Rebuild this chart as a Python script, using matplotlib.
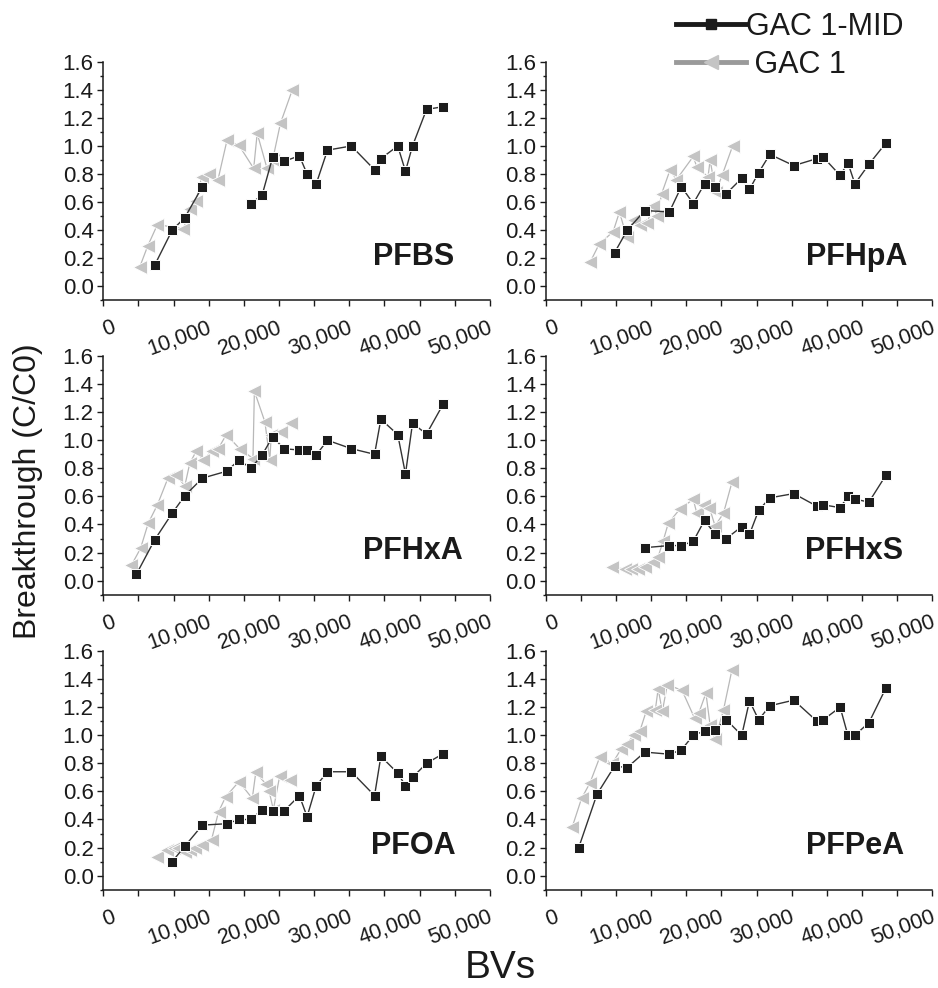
import numpy as np
import matplotlib
matplotlib.use("Agg")
import matplotlib.pyplot as plt
import matplotlib.transforms as mtransforms
from matplotlib.ticker import MultipleLocator, FuncFormatter
from matplotlib.lines import Line2D

plt.rcParams['font.family'] = ['Liberation Sans', 'DejaVu Sans']

nan = np.nan
compounds = ["PFBS", "PFHpA", "PFHxA", "PFHxS", "PFOA", "PFPeA"]

# GAC 1-MID sampling points (bed volumes)
mid_bv = [4700, 7300, 9800, 11600, 14100, 17600, 19300, 21000, 22600, 24100, 25700,
          27900, 29000, 30300, 31900, 35300, 38600, 39500, 41900, 43000, 44000, 46000, 48400]
pfbs_mid = [nan, 0.15, 0.40, 0.49, 0.71, nan, nan, 0.59, 0.65, 0.92, 0.89, 0.93, 0.80, 0.73,
            0.97, 1.00, 0.83, 0.91, 1.00, 0.82, 1.00, 1.26, 1.28]
pfhpa_mid = [nan, nan, 0.24, 0.40, 0.54, 0.53, 0.71, 0.59, 0.73, 0.71, 0.66, 0.77, 0.69, 0.81,
             0.94, 0.86, 0.91, 0.92, 0.79, 0.88, 0.73, 0.87, 1.02]
pfhxa_mid = [0.045, 0.29, 0.48, 0.605, 0.73, 0.78, 0.86, 0.80, 0.895, 1.025, 0.94, 0.93, 0.93,
             0.895, 1.00, 0.94, 0.90, 1.15, 1.04, 0.76, 1.12, 1.045, 1.26]
pfhxs_mid = [nan, nan, nan, nan, 0.235, 0.25, 0.25, 0.28, 0.43, 0.33, 0.30, 0.385, 0.33, 0.50,
             0.59, 0.62, 0.53, 0.54, 0.52, 0.60, 0.58, 0.56, 0.75]
pfoa_mid = [nan, nan, 0.10, 0.21, 0.36, 0.37, 0.40, 0.40, 0.47, 0.46, 0.46, 0.57, 0.42, 0.64,
            0.74, 0.74, 0.57, 0.85, 0.73, 0.64, 0.70, 0.80, 0.87]
pfpea_mid = [0.20, 0.58, 0.78, 0.77, 0.88, 0.865, 0.895, 1.00, 1.03, 1.04, 1.11, 1.00, 1.245,
             1.11, 1.21, 1.25, 1.10, 1.11, 1.20, 1.00, 1.00, 1.09, 1.335]

# GAC 1 series
pfbs_gac1_bv = [5200, 6300, 7700, 11400, 12400, 13200, 14000, 15000, 16300, 17600, 19300,
                21400, 21900, 23300, 24100, 25200, 26900]
pfbs_gac1 = [0.14, 0.285, 0.44, 0.41, 0.55, 0.61, 0.78, 0.80, 0.755, 1.04, 1.005, 0.84, 1.09,
             0.84, 0.90, 1.16, 1.40]
pfhpa_gac1_bv = [6300, 7600, 9600, 10500, 11500, 12500, 13400, 14400, 15300, 15900, 16500,
                 17700, 18600, 21000, 21500, 23100, 23400, 24200, 25100, 26600]
pfhpa_gac1 = [0.17, 0.30, 0.39, 0.53, 0.355, 0.47, 0.44, 0.45, 0.57, 0.50, 0.66, 0.83, 0.76,
              0.925, 0.85, 0.78, 0.90, 0.67, 0.79, 1.00]
pfhxa_gac1_bv = [4000, 5300, 6400, 7700, 9200, 10400, 11600, 12300, 13200, 14200, 15400, 16300,
                 17500, 19400, 21300, 21500, 23000, 23700, 23900, 25300, 26700]
pfhxa_gac1 = [0.11, 0.23, 0.41, 0.54, 0.73, 0.75, 0.675, 0.835, 0.92, 0.86, 0.92, 0.935, 1.04,
              0.94, 0.87, 1.35, 1.13, 0.86, 1.04, 1.06, 1.12]
pfhxs_gac1_bv = [9400, 11300, 12200, 13200, 14100, 15300, 16000, 16700, 17450, 19100, 21000,
                 21500, 22500, 23300, 24100, 25300, 26500]
pfhxs_gac1 = [0.10, 0.08, 0.085, 0.085, 0.10, 0.135, 0.17, 0.28, 0.41, 0.51, 0.58, 0.48, 0.54,
              0.52, 0.39, 0.48, 0.70]
pfoa_gac1_bv = [7600, 9000, 10000, 10700, 11600, 12300, 13000, 14000, 15400, 16400, 17400,
                19300, 21200, 21700, 23100, 23600, 24200, 25100, 26500]
pfoa_gac1 = [0.13, 0.18, 0.20, 0.20, 0.17, 0.185, 0.20, 0.215, 0.255, 0.455, 0.56, 0.67, 0.55,
             0.735, 0.655, 0.60, 0.47, 0.71, 0.68]
pfpea_gac1_bv = [3800, 5100, 6300, 7700, 9500, 10700, 11600, 12500, 13400, 14300, 15600, 16000,
                 16600, 17300, 19400, 21200, 21800, 22800, 23400, 24100, 25300, 26500]
pfpea_gac1 = [0.35, 0.55, 0.66, 0.845, 0.80, 0.90, 0.94, 1.00, 1.03, 1.17, 1.18, 1.33, 1.17,
              1.36, 1.32, 1.12, 1.16, 1.30, 1.07, 0.97, 1.18, 1.465]

mid_series = [pfbs_mid, pfhpa_mid, pfhxa_mid, pfhxs_mid, pfoa_mid, pfpea_mid]
gac1_bvs = [pfbs_gac1_bv, pfhpa_gac1_bv, pfhxa_gac1_bv, pfhxs_gac1_bv, pfoa_gac1_bv, pfpea_gac1_bv]
gac1_series = [pfbs_gac1, pfhpa_gac1, pfhxa_gac1, pfhxs_gac1, pfoa_gac1, pfpea_gac1]

# layout only: right edge of each compound label (data x)
label_right = [50000, 51400, 51200, 50900, 50200, 51000]

W, H = 938, 988
fig = plt.figure(figsize=(W / 100, H / 100), dpi=100)

lefts = [103.3 / W, 545.7 / W]
width = 386.5 / W
bottoms = [1 - 300.4 / H, 1 - 594.7 / H, 1 - 889.7 / H]
height = 238.7 / H

txt_color = "#1a1a1a"
sq_color = "#1c1c1c"
tri_color = "#c4c4c4"

shift = mtransforms.ScaledTranslation(6 / 100, 0, fig.dpi_scale_trans)

for i, name in enumerate(compounds):
    r, c = divmod(i, 2)
    ax = fig.add_axes([lefts[c], bottoms[r], width, height])
    ax.plot(gac1_bvs[i], gac1_series[i], color="#b8b8b8", lw=0.9, marker="<",
            markersize=10.5, markerfacecolor=tri_color, markeredgecolor="white",
            markeredgewidth=0.6, zorder=2)
    ax.plot(mid_bv, mid_series[i], color="#333333", lw=1.0, marker="s",
            markersize=7.8, markerfacecolor=sq_color, markeredgecolor="white",
            markeredgewidth=0.7, zorder=3)
    ax.spines['top'].set_visible(False)
    ax.spines['right'].set_visible(False)
    for s in ['left', 'bottom']:
        ax.spines[s].set_linewidth(1.1)
        ax.spines[s].set_color(txt_color)
    ax.yaxis.set_major_locator(MultipleLocator(0.2))
    ax.yaxis.set_minor_locator(MultipleLocator(0.1))
    ax.set_xticks([0, 10000, 20000, 30000, 40000, 50000])
    ax.xaxis.set_minor_locator(MultipleLocator(5000))
    ax.set_xlim(0, 55000)
    ax.set_ylim(-0.1, 1.6)
    ax.yaxis.set_major_formatter(FuncFormatter(lambda v, p: f"{v:.1f}"))
    ax.xaxis.set_major_formatter(FuncFormatter(lambda v, p: f"{int(round(v)):,}"))
    ax.tick_params(axis='y', which='major', direction='out', length=4, width=1,
                   labelsize=16, pad=3, colors=txt_color)
    ax.tick_params(axis='y', which='minor', direction='out', length=2.5, width=1,
                   colors=txt_color)
    ax.tick_params(axis='x', which='major', direction='out', length=4, width=1,
                   labelsize=15.5, pad=8, colors=txt_color)
    ax.tick_params(axis='x', which='minor', direction='out', length=4, width=1,
                   colors=txt_color)
    for lab in ax.get_xticklabels():
        lab.set_rotation(20)
        lab.set_ha('center')
        lab.set_transform(lab.get_transform() + shift)
    ax.text(label_right[i], 0.21, name, ha='right', va='center', fontsize=22,
            fontweight='bold', color=txt_color)

fig.text(0.030, 0.503, "Breakthrough (C/C0)", rotation=90, ha='center', va='center',
         fontsize=23, color=txt_color)
fig.text(0.533, 0.020, "BVs", ha='center', va='center', fontsize=28, color=txt_color)

handles = [
    Line2D([], [], color="#1a1a1a", lw=3.5, marker="s", markersize=7.5,
           markerfacecolor=sq_color, markeredgecolor=sq_color),
    Line2D([], [], color="#9a9a9a", lw=3.5, marker="<", markersize=10,
           markerfacecolor=tri_color, markeredgecolor=tri_color),
]
fig.legend(handles, ["GAC 1-MID", " GAC 1"], loc='upper left',
           bbox_to_anchor=(670 / W, 1 - 6 / H), frameon=False, fontsize=22,
           handlelength=2.3, handletextpad=0.0, labelspacing=0.25,
           borderaxespad=0, borderpad=0.2, labelcolor=txt_color)

fig.savefig("out.png", dpi=100)
